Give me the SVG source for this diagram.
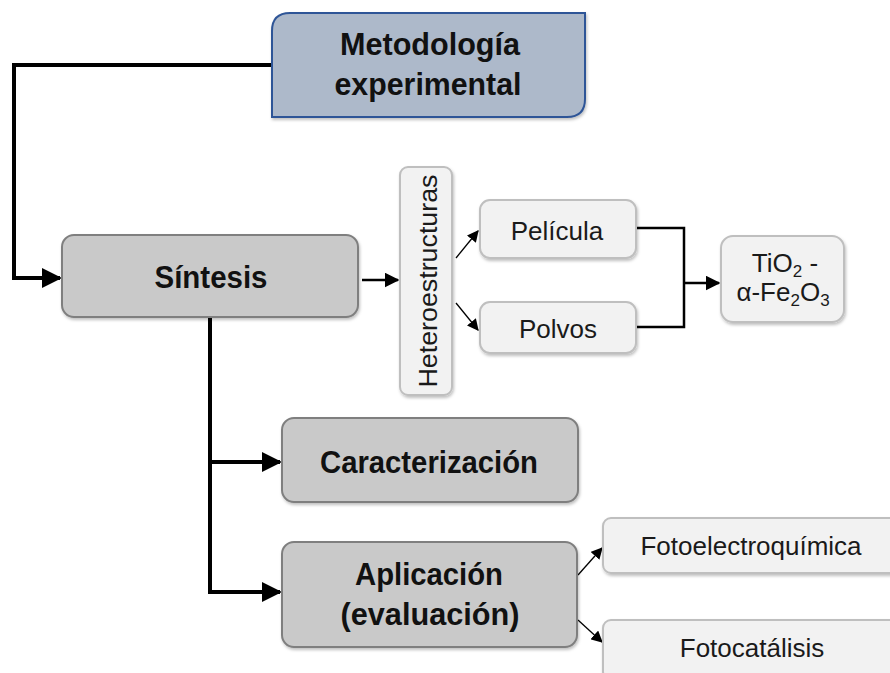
<svg xmlns="http://www.w3.org/2000/svg" width="890" height="673" viewBox="0 0 890 673">
<defs>
<style>
.b{font-family:"Liberation Sans",Arial,sans-serif;font-weight:bold;font-size:31px;fill:#111;text-anchor:middle}
.r{font-family:"Liberation Sans",Arial,sans-serif;font-size:26px;fill:#1a1a1a;text-anchor:middle}
.s{font-size:17px}
.gbox{fill:#c9c9c9;stroke:#7f7f7f;stroke-width:2}
.lbox{fill:#f2f2f2;stroke:#bfbfbf;stroke-width:2}
.thick{fill:none;stroke:#000;stroke-width:4}
.med{fill:none;stroke:#000;stroke-width:2.5}
.thin{fill:none;stroke:#000;stroke-width:1.3}
</style>
<marker id="ah" viewBox="0 0 10 10" refX="9" refY="5" markerWidth="5" markerHeight="5" markerUnits="strokeWidth" orient="auto"><path d="M0,0L10,5L0,10z" fill="#000"/></marker>
<marker id="ahs" viewBox="0 0 10 10" refX="9" refY="5" markerWidth="9" markerHeight="9" markerUnits="strokeWidth" orient="auto"><path d="M0,0L10,5L0,10z" fill="#000"/></marker>
<marker id="ahm" viewBox="0 0 10 10" refX="9" refY="5" markerWidth="6" markerHeight="6" markerUnits="strokeWidth" orient="auto"><path d="M0,0L10,5L0,10z" fill="#000"/></marker>
<filter id="sh" x="-10%" y="-10%" width="120%" height="130%"><feDropShadow dx="1" dy="2" stdDeviation="1.5" flood-color="#000" flood-opacity="0.25"/></filter>
</defs>

<g id="connectors">
<polyline class="thick" points="272,65 14,65 14,278 60,278" marker-end="url(#ah)"/>
<line class="med" x1="362" y1="280" x2="398" y2="280" marker-end="url(#ahm)"/>
<line class="thin" x1="456" y1="258" x2="478" y2="231" marker-end="url(#ahs)"/>
<line class="thin" x1="456" y1="303" x2="478" y2="330" marker-end="url(#ahs)"/>
<polyline class="med" points="636,228 684,228 684,327 636,327"/>
<line class="med" x1="684" y1="283" x2="719" y2="283" marker-end="url(#ahm)"/>
<polyline class="thick" points="210,317 210,592 280,592" marker-end="url(#ah)"/>
<line class="thick" x1="210" y1="462" x2="280" y2="462" marker-end="url(#ah)"/>
<line class="thin" x1="578" y1="575" x2="602" y2="548" marker-end="url(#ahs)"/>
<line class="thin" x1="578" y1="620" x2="602" y2="642" marker-end="url(#ahs)"/>
</g>

<g id="metodologia">
<path d="M290,13 H585 V99 Q585,117 567,117 H272 V31 Q272,13 290,13 Z" fill="#adb9ca" stroke="#2f5597" stroke-width="2" filter="url(#sh)"/>
<text class="b" x="430" y="55" textLength="180" lengthAdjust="spacingAndGlyphs">Metodología</text>
<text class="b" x="428" y="95" textLength="187" lengthAdjust="spacingAndGlyphs">experimental</text>
</g>

<g id="sintesis">
<rect class="gbox" x="62" y="235" width="296" height="82" rx="12" filter="url(#sh)"/>
<text class="b" x="211" y="288" textLength="113" lengthAdjust="spacingAndGlyphs">Síntesis</text>
</g>

<g id="heteroestructuras">
<rect class="lbox" x="400" y="167" width="52" height="228" rx="8" filter="url(#sh)"/>
<text class="r" transform="translate(437,281) rotate(-90)" textLength="213" lengthAdjust="spacingAndGlyphs">Heteroestructuras</text>
</g>

<g id="pelicula">
<rect class="lbox" x="480" y="200" width="156" height="58" rx="10" filter="url(#sh)"/>
<text class="r" x="557" y="240">Película</text>
</g>

<g id="polvos">
<rect class="lbox" x="480" y="302" width="156" height="51" rx="10" filter="url(#sh)"/>
<text class="r" x="558" y="338">Polvos</text>
</g>

<g id="tio2">
<rect class="lbox" x="721" y="236" width="123" height="86" rx="12" filter="url(#sh)"/>
<text class="r" x="785" y="272">TiO<tspan class="s" dy="5">2</tspan><tspan dy="-5"> -</tspan></text>
<text class="r" x="783" y="301">α-Fe<tspan class="s" dy="5">2</tspan><tspan dy="-5">O</tspan><tspan class="s" dy="5">3</tspan></text>
</g>

<g id="caracterizacion">
<rect class="gbox" x="282" y="418" width="296" height="84" rx="12" filter="url(#sh)"/>
<text class="b" x="429" y="473" textLength="218" lengthAdjust="spacingAndGlyphs">Caracterización</text>
</g>

<g id="aplicacion">
<rect class="gbox" x="282" y="542" width="295" height="105" rx="12" filter="url(#sh)"/>
<text class="b" x="429" y="585" textLength="148" lengthAdjust="spacingAndGlyphs">Aplicación</text>
<text class="b" x="430" y="625" textLength="179" lengthAdjust="spacingAndGlyphs">(evaluación)</text>
</g>

<g id="fotoelectroquimica">
<rect class="lbox" x="603" y="518" width="300" height="55" rx="8" filter="url(#sh)"/>
<text class="r" x="751" y="555">Fotoelectroquímica</text>
</g>

<g id="fotocatalisis">
<rect class="lbox" x="603" y="620" width="300" height="60" rx="8" filter="url(#sh)"/>
<text class="r" x="752" y="657">Fotocatálisis</text>
</g>
</svg>
